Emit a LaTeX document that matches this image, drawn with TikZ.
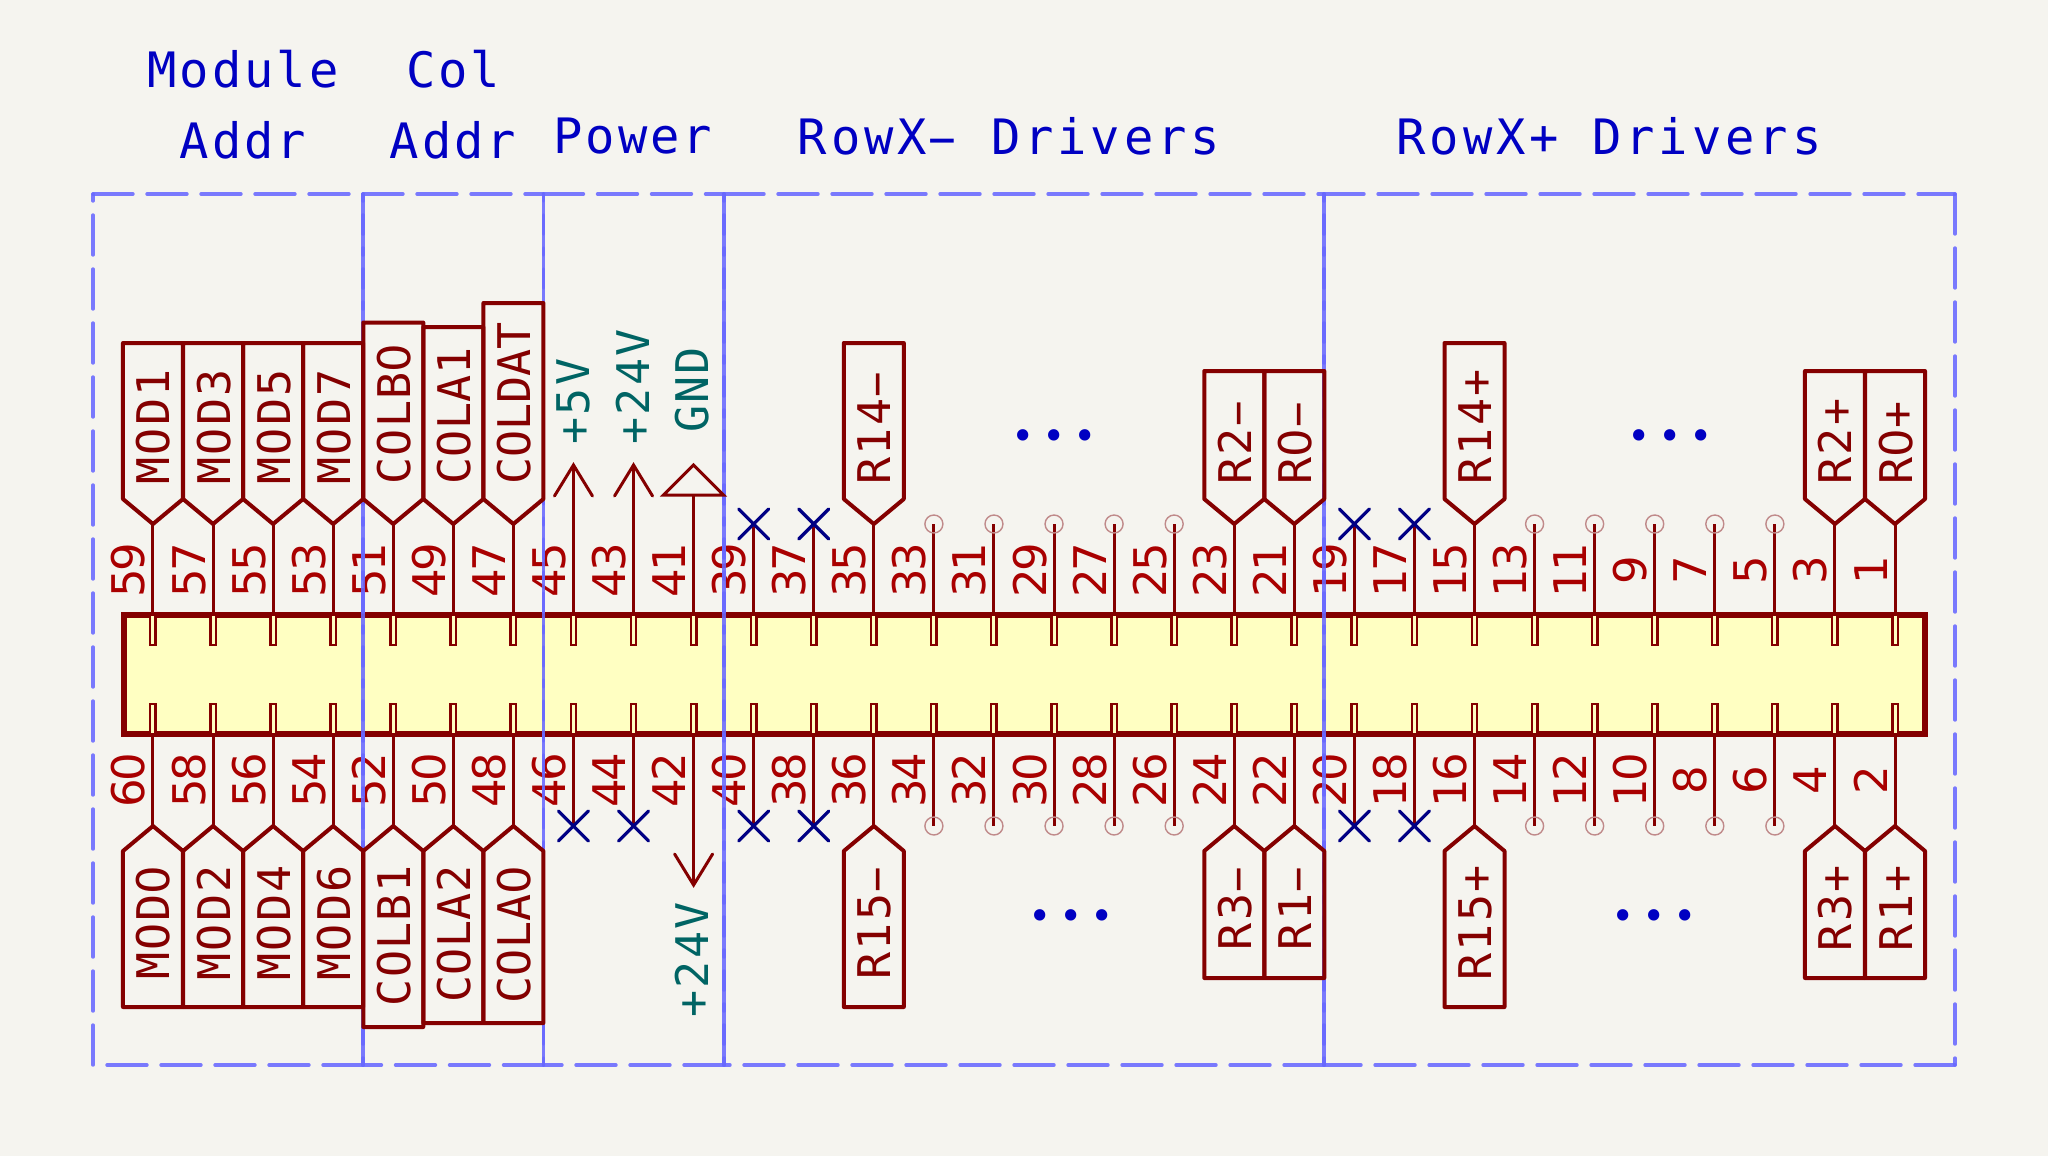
\documentclass[tikz,border=0pt]{standalone}
\usepackage{fontspec}
\newfontfamily\labfont[LetterSpace=5]{DejaVu Sans Mono}
\newfontfamily\notefont[LetterSpace=6]{DejaVu Sans Mono}
\newfontfamily\rowfont[LetterSpace=8]{DejaVu Sans Mono}
\newfontfamily\modf[LetterSpace=5]{DejaVu Sans Mono}
\newfontfamily\datf[LetterSpace=0]{DejaVu Sans Mono}
\newfontfamily\colaf[LetterSpace=1]{DejaVu Sans Mono}
\newfontfamily\colbf[LetterSpace=3]{DejaVu Sans Mono}
\newfontfamily\zerof{DejaVu Sans}
\newfontfamily\numfont[LetterSpace=-5]{DejaVu Sans}
\newfontfamily\dotfont[LetterSpace=12.5]{Poppins}
\newcommand\zr{{\zerof 0}}
\newcommand\hy{\makebox[0.63em][c]{\scalebox{1.9}[1]{-}}}
\definecolor{bgc}{HTML}{F5F4EF}
\definecolor{wire}{HTML}{840000}
\definecolor{numc}{HTML}{A90000}
\definecolor{sheet}{HTML}{6868FF}
\definecolor{note}{HTML}{0000C2}
\definecolor{pwr}{HTML}{006464}
\definecolor{ncx}{HTML}{000084}
\definecolor{boxc}{HTML}{FFFFC2}
\definecolor{ring}{HTML}{C08A8A}
\tikzset{
  x=0.5pt,y=-0.5pt,
  body/.style={draw=wire,fill=boxc,line width=2.6pt,rectangle,inner sep=0pt,outer sep=0pt,anchor=north west,minimum width=900.5pt,minimum height=59.5pt},
  pinw/.style={draw=wire,line width=1.5pt},
  pinr/.style={draw=wire,line width=1.2pt},
  labw/.style={draw=wire,line width=2pt,line join=round},
  sheeth/.style={draw=sheet,line width=1.7pt,opacity=0.88,line cap=round,dash pattern=on 20pt off 7pt},
  notet/.style={font=\notefont\fontsize{24.4}{26}\selectfont,text=note,inner sep=0pt,anchor=base},
  rowt/.style={font=\rowfont\fontsize{24.4}{26}\selectfont,text=note,inner sep=0pt,anchor=base},
  pnum/.style={font=\numfont\fontsize{22.5}{24}\selectfont,text=numc,inner sep=0pt,anchor=base,rotate=90},
  ltop/.style={font=\labfont\fontsize{22.5}{24}\selectfont,text=wire,inner sep=0pt,anchor=base west,rotate=90},
  lbot/.style={font=\labfont\fontsize{22.5}{24}\selectfont,text=wire,inner sep=0pt,anchor=base east,rotate=90},
  ptext/.style={font=\labfont\fontsize{22.5}{24}\selectfont,text=pwr,inner sep=0pt,rotate=90},
  ncross/.style={draw=ncx,line width=1.6pt,line cap=round},
  openpin/.style={draw=ring,line width=0.7pt},
  dotst/.style={font=\dotfont\fontsize{46}{48}\selectfont,text=note,inner sep=0pt,anchor=base},
}
\newcommand\pinxof[1]{\pgfmathsetmacro\xx{1895-floor((#1-1)/2)*60.07}}
\newcommand\toplab[3]{\pinxof{#1}
  \coordinate (tip#1) at (\xx,524);
  \draw[pinw] (pin#1) -- (tip#1);
  \draw[labw] (tip#1) -- ({\xx+30},499) -- ({\xx+30},#3) -- ({\xx-30},#3) -- ({\xx-30},499) -- cycle;
  \node[ltop] (lab#1) at ({\xx+17},485) {#2};}
\newcommand\botlab[3]{\pinxof{#1}
  \coordinate (tip#1) at (\xx,826);
  \draw[pinw] (pin#1) -- (tip#1);
  \draw[labw] (tip#1) -- ({\xx+30},851) -- ({\xx+30},#3) -- ({\xx-30},#3) -- ({\xx-30},851) -- cycle;
  \node[lbot] (lab#1) at ({\xx+17},865) {#2};}
\newcommand\ncmark[2]{\pinxof{#1}
  \coordinate (tip#1) at (\xx,#2);
  \draw[pinw] (pin#1) -- (tip#1);
  \draw[ncross] ({\xx-15},#2-15) -- ({\xx+15},#2+15) ({\xx-15},#2+15) -- ({\xx+15},#2-15);}
\newcommand\openend[2]{\pinxof{#1}
  \coordinate (tip#1) at (\xx,#2);
  \draw[pinw] (pin#1) -- (tip#1);
  \draw[openpin] (tip#1) circle[radius=9];}
% one dashed sheet section: each side is dashed on its own
\newcommand\sheetpart[2]{
  \draw[sheeth] (#1,194) -- (#2,194);
  \draw[sheeth] (#2,194) -- (#2,1065);
  \draw[sheeth] (#2,1065) -- (#1,1065);
  \draw[sheeth] (#1,1065) -- (#1,194);}
\begin{document}
\begin{tikzpicture}
\useasboundingbox (0,0) rectangle (2048,1156);
\fill[bgc] (0,0) rectangle (2048,1156);
\node[body] (conn) at (124,615) {};
\foreach \n in {1,3,...,59}{
  \pinxof{\n}
  \coordinate (pin\n) at (\xx,615);
  \draw[pinr,fill=boxc] ({\xx-2.7},615) rectangle ({\xx+2.7},645);
  \node[pnum] (num\n) at ({\xx-8},570) {\n};
}
\foreach \n in {2,4,...,60}{
  \pinxof{\n}
  \coordinate (pin\n) at (\xx,734);
  \draw[pinr,fill=boxc] ({\xx-2.7},704) rectangle ({\xx+2.7},734);
  \node[pnum] (num\n) at ({\xx-8},780) {\n};
}
\sheetpart{93}{363}
\sheetpart{363}{543.5}
\sheetpart{543.5}{724}
\sheetpart{724}{1324}
\sheetpart{1324}{1955}
\node[notet] (n1) at (243,88) {Module};
\node[notet] (n2) at (243,158) {Addr};
\node[notet] (n3) at (453,88) {Col};
\node[notet] (n4) at (453,158) {Addr};
\node[notet] (n5) at (633,154) {Power};
\node[rowt] (n6) at (1009,155) {RowX\hy{} Drivers};
\node[rowt] (n7) at (1609,155) {RowX+ Drivers};
\node[dotst] (d1) at (1054,440) {...};
\node[dotst] (d2) at (1670,440) {...};
\node[dotst] (d3) at (1071,920) {...};
\node[dotst] (d4) at (1654,920) {...};
\toplab{59}{\modf MOD1}{343}\toplab{57}{\modf MOD3}{343}\toplab{55}{\modf MOD5}{343}\toplab{53}{\modf MOD7}{343}
\toplab{51}{\colbf COLB\zr}{322.5}\toplab{49}{\colaf COLA1}{327}\toplab{47}{\datf COLDAT}{303}
\toplab{35}{R14\hy}{343}\toplab{23}{R2\hy}{371}\toplab{21}{R\zr\hy}{371}
\toplab{15}{R14+}{343}\toplab{3}{R2+}{371}\toplab{1}{R\zr+}{371}
\botlab{60}{\modf MOD\zr}{1007}\botlab{58}{\modf MOD2}{1007}\botlab{56}{\modf MOD4}{1007}\botlab{54}{\modf MOD6}{1007}
\botlab{52}{\colbf COLB1}{1027}\botlab{50}{\colaf COLA2}{1023}\botlab{48}{\colaf COLA\zr}{1023}
\botlab{36}{R15\hy}{1007}\botlab{24}{R3\hy}{978}\botlab{22}{R1\hy}{978}
\botlab{16}{R15+}{1007}\botlab{4}{R3+}{978}\botlab{2}{R1+}{978}
\foreach \n in {39,37,19,17}{\ncmark{\n}{524}}
\foreach \n in {46,44,40,38,20,18}{\ncmark{\n}{826}}
\foreach \n in {33,31,...,25,13,11,...,5}{\openend{\n}{524}}
\foreach \n in {34,32,...,26,14,12,...,6}{\openend{\n}{826}}
\pinxof{45}
\coordinate (tip45) at (\xx,465);
\draw[pinw] (pin45) -- (tip45);
\draw[pinw,line cap=round] ({\xx-19},496) -- (tip45) -- ({\xx+19},496);
\node[ptext,anchor=base west] (pw5) at ({\xx+16},445) {+5V};
\pinxof{43}
\coordinate (tip43) at (\xx,465);
\draw[pinw] (pin43) -- (tip43);
\draw[pinw,line cap=round] ({\xx-19},496) -- (tip43) -- ({\xx+19},496);
\node[ptext,anchor=base west] (pw24) at ({\xx+16},445) {+24V};
\pinxof{41}
\coordinate (tip41) at (\xx,495);
\draw[pinw] (pin41) -- (tip41);
\draw[pinw] ({\xx-30},495) -- ({\xx+30},495) -- (\xx,465) -- cycle;
\node[ptext,anchor=base] (pwg) at ({\xx+15},390) {GND};
\pinxof{42}
\coordinate (tip42) at (\xx,885);
\draw[pinw] (pin42) -- (tip42);
\draw[pinw,line cap=round] ({\xx-19},854) -- (tip42) -- ({\xx+19},854);
\node[ptext,anchor=base east] (pw24b) at ({\xx+15},902) {+24V};
\end{tikzpicture}
\end{document}
